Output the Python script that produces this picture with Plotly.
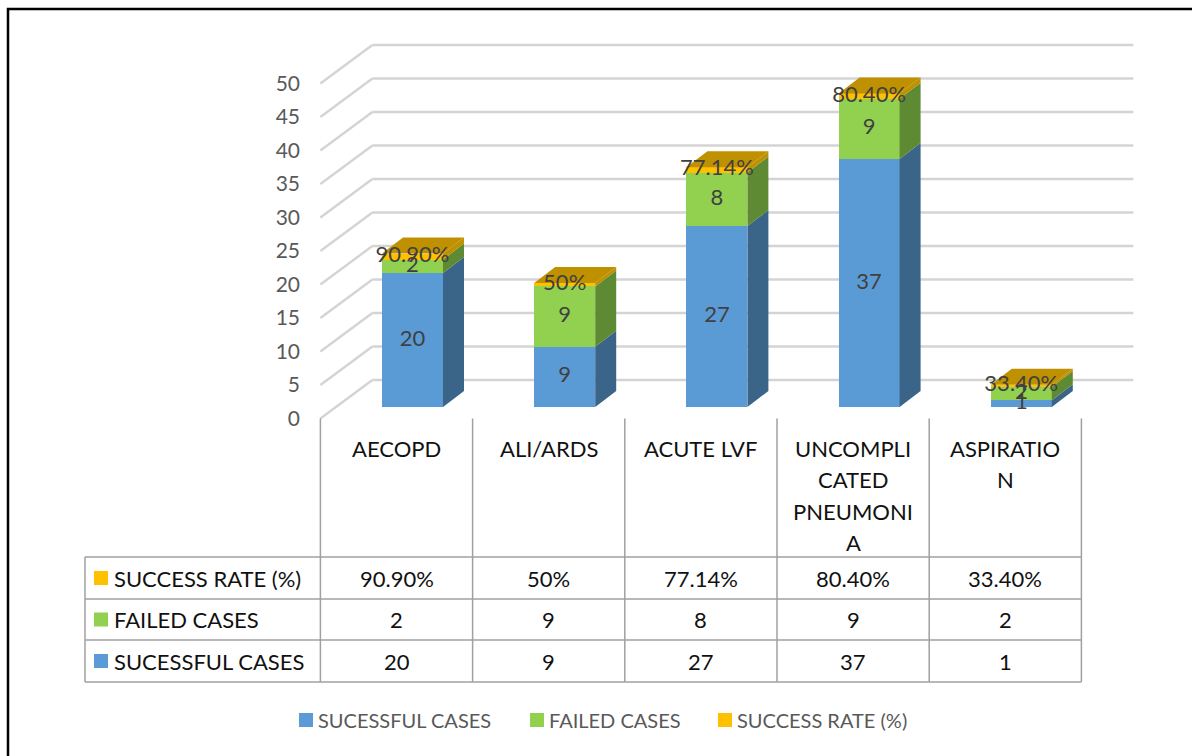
import plotly.graph_objects as go

# ---------------- data ----------------
categories = ["AECOPD", "ALI/ARDS", "ACUTE LVF", "UNCOMPLICATED PNEUMONIA", "ASPIRATION"]
category_label_lines = [["AECOPD"], ["ALI/ARDS"], ["ACUTE LVF"],
                        ["UNCOMPLI", "CATED", "PNEUMONI", "A"], ["ASPIRATIO", "N"]]
successful_cases = [20, 9, 27, 37, 1]
failed_cases = [2, 9, 8, 9, 2]
success_rate = [0.909, 0.50, 0.7714, 0.804, 0.334]
success_rate_labels = ["90.90%", "50%", "77.14%", "80.40%", "33.40%"]
series_names = ["SUCESSFUL CASES", "FAILED CASES", "SUCCESS RATE (%)"]
y_ticks = [0, 5, 10, 15, 20, 25, 30, 35, 40, 45, 50]

# ---------------- style ----------------
FONT = "Lato"
FRONT_COLORS = ["#5b9bd5", "#92d050", "#ffc000"]
SIDE_COLORS = ["#3b6489", "#5e8a33", "#bf9000"]
TOP_COLOR = "#bf9000"
GRID_COLOR = "#d4d4d4"
TABLE_LINE = "#a0a0a0"
LABEL_GRAY = "#595959"
TABLE_TEXT = "#111111"

W, H = 1192, 756
PX_X, X0_PX = 152.2, 412.5      # pixels per category, pixel of category 0
PX_Y, Y0_PX = 6.7, 407.0        # pixels per value unit, pixel of value 0 (bar front plane)
x_range = [(0 - X0_PX) / PX_X, (W - X0_PX) / PX_X]
y_range = [(Y0_PX - H) / PX_Y, Y0_PX / PX_Y]

BAR_W = 61 / PX_X
SIDE_DX, SIDE_DY = 21 / PX_X, 16 / PX_Y       # bar depth
FRONT_DX, FRONT_DY = -16 / PX_X, -11.5 / PX_Y  # floor front edge vs bar plane
BACK_DX, BACK_DY = 36 / PX_X, 27 / PX_Y       # back wall vs bar plane
n = len(categories)
xs = list(range(n))


def py(p):  # pixel y -> paper
    return 1 - p / H


def px(p):  # pixel x -> paper
    return p / W


fig = go.Figure()

# front faces of stacked bars
series_vals = [successful_cases, failed_cases, success_rate]
for name, vals, col in zip(series_names, series_vals, FRONT_COLORS):
    fig.add_trace(go.Bar(x=xs, y=vals, name=name, width=BAR_W, marker=dict(color=col, line=dict(width=0)),
                         showlegend=False, hoverinfo="skip"))

# side faces and top faces
for s, vals in enumerate(series_vals):
    sx, sy = [], []
    for i in xs:
        base = sum(series_vals[k][i] for k in range(s))
        top = base + vals[i]
        xr = i + BAR_W / 2
        sx += [xr, xr, xr + SIDE_DX, xr + SIDE_DX, xr, None]
        sy += [base, top, top + SIDE_DY, base + SIDE_DY, base, None]
    fig.add_trace(go.Scatter(x=sx, y=sy, mode="lines", fill="toself", fillcolor=SIDE_COLORS[s],
                             line=dict(width=0, color=SIDE_COLORS[s]), showlegend=False, hoverinfo="skip"))
tx, ty = [], []
for i in xs:
    T = successful_cases[i] + failed_cases[i] + success_rate[i]
    xl, xr = i - BAR_W / 2, i + BAR_W / 2
    tx += [xl, xr, xr + SIDE_DX, xl + SIDE_DX, xl, None]
    ty += [T, T, T + SIDE_DY, T + SIDE_DY, T, None]
fig.add_trace(go.Scatter(x=tx, y=ty, mode="lines", fill="toself", fillcolor=TOP_COLOR,
                         line=dict(width=0, color=TOP_COLOR), showlegend=False, hoverinfo="skip"))

# data labels
lab_x, lab_y, lab_t = [], [], []
for i in xs:
    b1 = successful_cases[i]
    b2 = b1 + failed_cases[i]
    lab_x += [i, i, i]
    lab_y += [b1 / 2, b1 + failed_cases[i] / 2, b2 + success_rate[i] / 2]
    lab_t += [str(successful_cases[i]), str(failed_cases[i]), success_rate_labels[i]]
fig.add_trace(go.Scatter(x=lab_x, y=lab_y, text=lab_t, mode="text",
                         textfont=dict(family=FONT, size=22, color="#404040"),
                         showlegend=False, hoverinfo="skip"))

# dummy trace on the front-edge value axis
fig.add_trace(go.Scatter(x=[0], y=[0], yaxis="y2", mode="markers", marker=dict(opacity=0),
                         showlegend=False, hoverinfo="skip"))

shapes = []
# gridlines: back wall + left wall
x_left_front = FRONT_DX - 0.5
x_left_back = x_left_front + (BACK_DX - FRONT_DX)
x_right_back = (n - 1) + FRONT_DX + 0.5 + (BACK_DX - FRONT_DX)
for v in y_ticks:
    shapes.append(dict(type="line", xref="x", yref="y", x0=x_left_back, x1=x_right_back,
                       y0=v + BACK_DY, y1=v + BACK_DY, line=dict(color=GRID_COLOR, width=2.4), layer="below"))
    shapes.append(dict(type="line", xref="x", yref="y", x0=x_left_front, x1=x_left_back,
                       y0=v + FRONT_DY, y1=v + BACK_DY, line=dict(color=GRID_COLOR, width=2.4), layer="below"))

# data table
row_lines_px = [557, 599, 640, 682]
table_left_px = 85
header_top_px = Y0_PX - FRONT_DY * PX_Y
col_bounds = [i + FRONT_DX - 0.5 for i in xs] + [n - 1 + FRONT_DX + 0.5]
for yl in row_lines_px:
    shapes.append(dict(type="line", xref="paper", yref="paper", x0=px(table_left_px), x1=px(X0_PX + col_bounds[-1] * PX_X),
                       y0=py(yl), y1=py(yl), line=dict(color=TABLE_LINE, width=1.5)))
shapes.append(dict(type="line", xref="paper", yref="paper", x0=px(table_left_px), x1=px(table_left_px),
                   y0=py(row_lines_px[0]), y1=py(row_lines_px[-1]), line=dict(color=TABLE_LINE, width=1.5)))
for cb in col_bounds:
    shapes.append(dict(type="line", xref="x", yref="paper", x0=cb, x1=cb,
                       y0=py(header_top_px), y1=py(row_lines_px[-1]), line=dict(color=TABLE_LINE, width=1.5)))

annotations = []
for i, lines in enumerate(category_label_lines):
    for k, ln in enumerate(lines):
        annotations.append(dict(xref="x", yref="paper", x=i + FRONT_DX, y=py(448 + 31.5 * k), text=ln,
                                showarrow=False, xanchor="center", yanchor="middle",
                                font=dict(family=FONT, size=22, color=TABLE_TEXT)))

table_rows = [(series_names[2], success_rate_labels, FRONT_COLORS[2]),
              (series_names[1], [str(v) for v in failed_cases], FRONT_COLORS[1]),
              (series_names[0], [str(v) for v in successful_cases], FRONT_COLORS[0])]
for r, (rname, rvals, rcol) in enumerate(table_rows):
    cy = (row_lines_px[r] + row_lines_px[r + 1]) / 2
    shapes.append(dict(type="rect", xref="paper", yref="paper", x0=px(94), x1=px(108),
                       y0=py(cy - 7), y1=py(cy + 7), fillcolor=rcol, line=dict(width=0)))
    annotations.append(dict(xref="paper", yref="paper", x=px(112), y=py(cy), text=rname, showarrow=False,
                            xanchor="left", yanchor="middle", font=dict(family=FONT, size=22, color=TABLE_TEXT)))
    for i, val in enumerate(rvals):
        annotations.append(dict(xref="x", yref="paper", x=i + FRONT_DX, y=py(cy), text=val, showarrow=False,
                                xanchor="center", yanchor="middle", font=dict(family=FONT, size=22, color=TABLE_TEXT)))

# bottom legend
legend_sq_px = [299, 530, 718]
for name, col, lx in zip(series_names, FRONT_COLORS, legend_sq_px):
    shapes.append(dict(type="rect", xref="paper", yref="paper", x0=px(lx), x1=px(lx + 14),
                       y0=py(727), y1=py(713), fillcolor=col, line=dict(width=0)))
    annotations.append(dict(xref="paper", yref="paper", x=px(lx + 17), y=py(720), text=name, showarrow=False,
                            xanchor="left", yanchor="middle", font=dict(family=FONT, size=20, color=LABEL_GRAY)))

# outer frame
shapes.append(dict(type="rect", xref="paper", yref="paper", x0=px(8), x1=px(W + 10), y0=py(H + 10), y1=py(9),
                   line=dict(color="#000000", width=2.5)))

fig.update_layout(
    width=W, height=H, margin=dict(l=0, r=0, t=0, b=0),
    paper_bgcolor="white", plot_bgcolor="white",
    barmode="stack", bargap=0,
    xaxis=dict(range=x_range, visible=False, fixedrange=True),
    yaxis=dict(range=y_range, visible=False, fixedrange=True),
    yaxis2=dict(range=[y_range[0] - FRONT_DY, y_range[1] - FRONT_DY], overlaying="y", anchor="free",
                position=px(320), side="left", tickvals=y_ticks, ticktext=[str(t) for t in y_ticks],
                showgrid=False, zeroline=False, showline=False, ticks="", ticklabelstandoff=20,
                tickfont=dict(family=FONT, size=21, color=LABEL_GRAY), fixedrange=True),
    shapes=shapes, annotations=annotations, showlegend=False,
    font=dict(family=FONT),
)

fig.write_html("out.html")
